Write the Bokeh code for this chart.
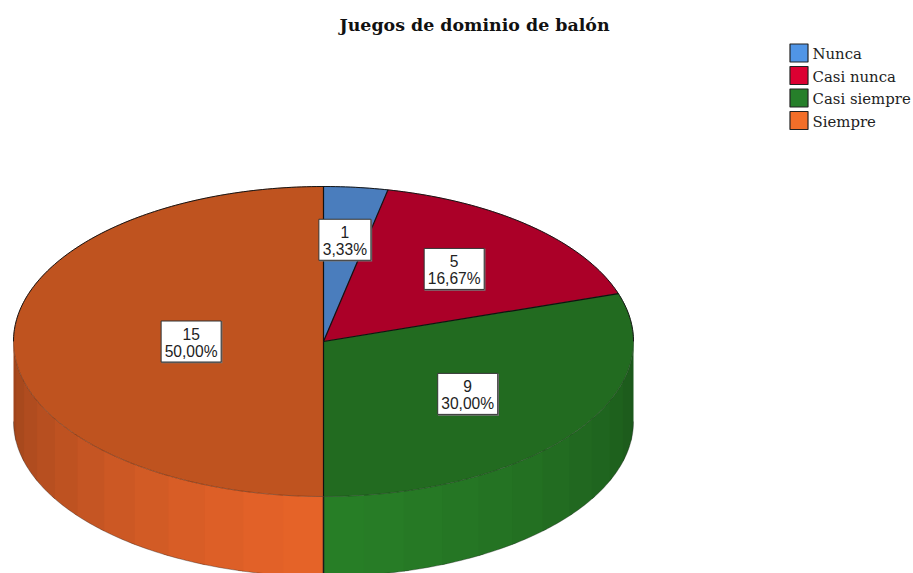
import numpy as np
from bokeh.plotting import figure
from bokeh.models import Range1d
from bokeh.core.properties import value
from bokeh.embed import file_html
from bokeh.resources import INLINE

title = "Juegos de dominio de balón"
categories = ["Nunca", "Casi nunca", "Casi siempre", "Siempre"]
counts = [1, 5, 9, 15]
percent_labels = ["3,33%", "16,67%", "30,00%", "50,00%"]

top_colors = ["#4A7DBD", "#AB0028", "#226B20", "#BF531F"]
front_colors = ["#5A97E3", "#DB0033", "#287F27", "#E76429"]
legend_colors = ["#5095E6", "#DC0032", "#267F2A", "#F26E29"]
label_radius = [0.66, 0.63, 0.575, 0.427]

CX, CY, RX, RY, DEPTH = 323.0, 341.0, 310.0, 155.0, 80.0
FACET = 7.5

p = figure(width=913, height=573, output_backend="svg", toolbar_location=None,
           x_range=Range1d(0, 913), y_range=Range1d(573, 0),
           min_border=0, outline_line_color=None, background_fill_color="white")
p.xaxis.visible = False
p.yaxis.visible = False
p.grid.visible = False


def ex(t):
    return CX + RX * np.sin(np.radians(t))


def ey(t):
    return CY - RY * np.cos(np.radians(t))


def shade(hex_color, f):
    r, g, b = (int(hex_color[i:i + 2], 16) for i in (1, 3, 5))
    return "#%02x%02x%02x" % (int(r * f), int(g * f), int(b * f))


total = sum(counts)
edges = np.concatenate([[0], np.cumsum(counts)]) * 360.0 / total

# side wall: stepped facets on the front half, each one overlapping its neighbour
for i in range(len(counts)):
    a0, a1 = max(edges[i], 90.0), min(edges[i + 1], 270.0)
    if a1 <= a0:
        continue
    steps = np.arange(a0, a1, FACET)
    if i == 2:
        steps = steps[::-1]
    for s in steps:
        e = min(s + FACET, a1)
        lo, hi = (s, min(e + 1.0, a1)) if i == 3 else (max(s - 1.0, a0), e)
        t = np.linspace(lo, hi, 10)
        mid = (s + e) / 2
        f = 1.0 - 0.32 * (abs(mid - 180.0) / 90.0) ** 1.3
        col = shade(front_colors[i], f)
        xs = np.concatenate([ex(t), ex(t[::-1])])
        ys = np.concatenate([ey(t), ey(t[::-1]) + DEPTH])
        p.patch(xs, ys, fill_color=col, line_color=None)

# outer contour of the wall
t = np.linspace(90, 270, 181)
p.line(ex(t), ey(t) + DEPTH, line_color="#222222", line_width=0.7, line_alpha=0.5)
p.line([ex(180), ex(180)], [ey(180), ey(180) + DEPTH], line_color="#1a1a1a", line_width=1.5)

# top face
for i in range(len(counts)):
    t = np.linspace(edges[i], edges[i + 1], 120)
    p.patch(np.concatenate([[CX], ex(t)]), np.concatenate([[CY], ey(t)]),
            fill_color=top_colors[i], line_color=top_colors[i], line_width=0.5)

t = np.linspace(-90, 90, 200)
p.line(ex(t), ey(t), line_color="#151515", line_width=1.0)
t = np.linspace(90, 270, 200)
p.line(ex(t), ey(t), line_color="#1a1a1a", line_width=0.7, line_alpha=0.45)
for e in edges[:-1]:
    p.line([CX, ex(e)], [CY, ey(e)], line_color="#111111", line_width=1.2)

# value labels
for i in range(len(counts)):
    mid = (edges[i] + edges[i + 1]) / 2
    lx = CX + label_radius[i] * RX * np.sin(np.radians(mid))
    ly = CY - label_radius[i] * RY * np.cos(np.radians(mid))
    w = 52 if len(percent_labels[i]) == 5 else 60
    h = 41
    p.rect([lx + 0.8], [ly + 0.8], w + 1, h + 1, fill_color="#777777", line_color=None)
    p.rect([lx], [ly], w, h, fill_color="white", line_color="#333333", line_width=1)
    p.text([lx], [ly - 8], text=[str(counts[i])], text_font=value("Liberation Sans"),
           text_font_size="15.6px", text_color="#222222", text_align="center", text_baseline="middle")
    p.text([lx], [ly + 9.5], text=[percent_labels[i]], text_font=value("Liberation Sans"),
           text_font_size="15.6px", text_color="#222222", text_align="center", text_baseline="middle")

# title
p.text([474], [24], text=[title], text_font=value("DejaVu Serif"), text_font_size="17.4px",
       text_font_style="bold", text_color="#111111", text_align="center", text_baseline="middle")

# legend
legend_y = [52.5, 75, 97.5, 120]
for c, col, y in zip(categories, legend_colors, legend_y):
    p.rect([798.5], [y], 18, 18, fill_color=col, line_color="#222222", line_width=1.2)
    p.text([812], [y + 1], text=[c], text_font=value("DejaVu Serif"), text_font_size="14.9px",
           text_color="#222222", text_align="left", text_baseline="middle")

open("out.html", "w").write(file_html(p, INLINE))
